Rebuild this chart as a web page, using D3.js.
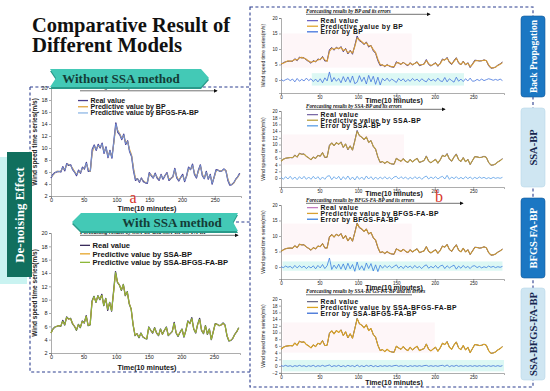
<!DOCTYPE html>
<html>
<head>
<meta charset="utf-8">
<title>Comparative Result of Different Models</title>
<script src="https://d3js.org/d3.v7.min.js"></script>
<style>
  body { margin: 0; background: #fff; }
  svg { display: block; }
  .serif { font-family: "Liberation Serif", "Times New Roman", serif; }
  .sans { font-family: "Liberation Sans", Arial, sans-serif; }
</style>
</head>
<body>
<div id="chart"></div>
<script>
// wind speed series, one value every 3 steps (10-minute steps), t = 0..288
const step = 3;
const realValue = [5.0,5.6,5.9,6.0,6.1,6.0,6.9,6.2,7.4,7.1, 7.2,6.4,6.0,5.4,6.3,5.8,6.8,6.5,7.6,6.1,
  6.2,9.8,10.5,9.6,10.6,10.0,10.8,9.1,10.2,8.4, 9.6,8.3,11.2,14.2,12.6,12.2,11.4,12.3,10.6,11.2,
  9.4,8.6,6.2,4.6,4.9,4.3,5.0,4.4,4.2,4.1, 5.9,5.4,5.0,5.8,5.0,4.6,5.6,4.8,5.4,5.9,
  4.6,4.9,5.2,6.6,5.0,4.5,5.1,5.6,4.4,5.4, 6.8,6.4,7.3,5.6,5.0,6.3,7.2,5.4,4.9,6.1,
  4.8,5.6,4.0,5.2,6.4,6.3,6.1,6.2,6.5,6.2, 4.6,3.8,3.9,4.2,4.8,5.2,5.8];

const predBP = [5.2,5.4,5.8,6.2,6.0,6.2,6.6,6.5,7.1,7.3, 7.0,6.7,6.1,5.7,6.0,6.0,6.5,6.7,7.3,6.5,
  6.0,9.2,10.2,9.9,10.3,10.2,10.5,9.5,9.9,8.8, 9.3,8.7,10.8,13.6,13.0,12.4,11.7,12.0,11.0,11.0,
  9.8,8.9,6.7,5.0,4.8,4.5,4.8,4.6,4.3,4.3, 5.5,5.6,5.1,5.6,5.2,4.8,5.4,5.0,5.3,5.7,
  4.9,4.9,5.1,6.3,5.3,4.7,5.0,5.4,4.7,5.2, 6.5,6.5,7.0,5.9,5.2,6.0,7.0,5.7,5.0,5.9,
  5.0,5.4,4.3,5.0,6.1,6.3,6.2,6.2,6.4,6.3, 4.9,4.0,3.9,4.1,4.7,5.1,5.6];

const predBFGS = [5.1,5.5,5.9,6.1,6.1,6.1,6.8,6.3,7.3,7.2, 7.1,6.5,6.0,5.5,6.2,5.9,6.7,6.6,7.5,6.2,
  6.1,9.6,10.4,9.7,10.5,10.1,10.7,9.2,10.1,8.5, 9.5,8.4,11.0,14.0,12.8,12.3,11.5,12.2,10.7,11.1,
  9.5,8.7,6.4,4.7,4.9,4.4,4.9,4.5,4.2,4.2, 5.8,5.5,5.0,5.7,5.1,4.7,5.5,4.9,5.4,5.8,
  4.7,4.9,5.2,6.5,5.1,4.6,5.1,5.5,4.5,5.3, 6.7,6.4,7.2,5.7,5.1,6.2,7.1,5.5,4.9,6.0,
  4.9,5.5,4.1,5.1,6.3,6.3,6.1,6.2,6.5,6.2, 4.7,3.9,3.9,4.2,4.8,5.2,5.7];

const predSSABP = [5.0,5.6,5.9,6.0,6.1,6.1,6.7,6.3,7.3,7.1, 7.1,6.5,6.0,5.5,6.2,5.9,6.7,6.5,7.5,6.2,
  6.3,9.6,10.4,9.7,10.5,10.1,10.6,9.2,10.1,8.6, 9.5,8.4,11.0,13.9,12.7,12.2,11.5,12.2,10.7,11.1,
  9.5,8.6,6.3,4.7,4.9,4.4,4.9,4.5,4.2,4.2, 5.8,5.4,5.0,5.7,5.0,4.7,5.5,4.8,5.4,5.8,
  4.7,4.9,5.2,6.4,5.1,4.6,5.1,5.5,4.5,5.4, 6.7,6.4,7.1,5.7,5.1,6.2,7.0,5.5,5.0,6.0,
  4.9,5.5,4.1,5.2,6.3,6.3,6.1,6.2,6.4,6.1, 4.7,3.9,3.9,4.2,4.8,5.2,5.7];

const predSSABFGS = [5.0,5.6,5.9,6.0,6.1,6.0,6.8,6.2,7.4,7.1, 7.2,6.4,6.0,5.4,6.3,5.8,6.8,6.5,7.5,6.1,
  6.2,9.7,10.5,9.6,10.6,10.0,10.7,9.1,10.2,8.5, 9.6,8.3,11.1,14.1,12.6,12.2,11.4,12.3,10.6,11.2,
  9.4,8.6,6.2,4.6,4.9,4.3,5.0,4.4,4.2,4.1, 5.9,5.4,5.0,5.8,5.0,4.6,5.6,4.8,5.4,5.9,
  4.6,4.9,5.2,6.5,5.0,4.5,5.1,5.6,4.4,5.4, 6.8,6.4,7.2,5.6,5.0,6.3,7.1,5.4,4.9,6.1,
  4.8,5.6,4.0,5.2,6.4,6.3,6.1,6.2,6.5,6.2, 4.6,3.8,3.9,4.2,4.8,5.2,5.8];

const errBP = [0.2,-0.3,0.1,0.4,-0.2,0.3,-0.6,0.5,-0.4,0.2, -0.3,0.6,-0.2,0.4,-0.5,0.3,-0.6,0.4,-0.9,0.7,
  -0.3,2.6,-0.6,0.8,-0.4,0.5,-0.9,1.1,-0.6,1.0, -0.8,1.3,-1.2,-0.7,1.4,-0.5,0.9,-1.3,1.5,-0.6,
  1.2,-1.4,0.9,-1.6,0.5,-0.3,0.6,-0.4,0.3,-0.2, -0.8,0.5,-0.3,0.4,-0.6,0.2,-0.4,0.5,-0.2,0.3,
  -0.5,0.4,-0.2,-0.6,0.5,-0.3,0.2,-0.4,0.6,-0.3, -0.5,0.8,-0.6,0.4,-0.2,-0.7,0.9,-0.4,0.3,-0.5,
  0.4,-0.3,0.6,-0.4,-0.3,0.2,-0.2,0.3,-0.2,0.1, 0.4,0.2,-0.1,0.2,-0.1,0.3,-0.2];

const errBFGS = [0.1,-0.2,0.3,-0.1,0.2,-0.4,0.5,-0.3,0.4,-0.2, 0.3,-0.5,0.2,-0.3,0.4,-0.6,0.5,-0.3,0.8,-0.5,
  0.4,2.9,-0.8,0.6,-0.5,0.9,-0.7,1.0,-0.9,1.2, -0.6,0.8,-1.4,1.6,-0.9,0.4,-1.1,1.3,-0.5,1.1,
  -1.3,0.7,-1.5,0.6,-0.4,0.5,-0.2,0.4,-0.3,0.2, 0.7,-0.4,0.3,-0.5,0.4,-0.2,0.3,-0.4,0.5,-0.3,
  0.2,-0.5,0.3,0.7,-0.4,0.2,-0.3,0.5,-0.4,0.3, 0.6,-0.5,0.4,-0.3,0.2,0.6,-0.7,0.3,-0.4,0.5,
  -0.3,0.2,-0.5,0.3,0.4,-0.2,0.2,-0.3,0.1,-0.2, 0.3,-0.1,0.2,-0.2,0.1,-0.1,0.2];

const errSSABP = [0.3,-0.4,0.4,-0.3,0.5,-0.4,0.3,-0.5,0.4,-0.3, 0.5,-0.4,0.3,-0.4,0.5,-0.3,0.4,-0.5,0.3,-0.4,
  0.5,0.7,-0.5,0.4,-0.3,0.5,-0.6,0.4,-0.4,0.6, -0.5,0.3,-0.6,0.5,-0.4,0.3,-0.5,0.6,-0.3,0.4,
  -0.5,0.3,-0.4,0.3,-0.3,0.4,-0.3,0.2,-0.4,0.3, 0.5,-0.3,0.4,-0.2,0.3,-0.4,0.2,-0.3,0.4,-0.2,
  0.3,-0.4,0.2,0.6,-0.3,0.3,-0.2,0.4,-0.3,0.2, 0.5,-0.3,0.8,-0.4,0.3,-0.2,0.4,-0.3,0.2,-0.3,
  0.4,-0.2,0.3,-0.3,0.2,-0.2,0.3,-0.1,0.2,-0.2, 0.1,-0.2,0.2,-0.1,0.1,-0.1,0.2];

const errSSABFGS = [0.1,-0.1,0.2,-0.1,0.1,-0.2,0.1,-0.1,0.2,-0.1, 0.1,-0.2,0.1,-0.1,0.2,-0.2,0.1,-0.1,0.2,-0.1,
  0.1,0.3,-0.2,0.1,-0.1,0.2,-0.2,0.1,-0.2,0.2, -0.1,0.1,-0.2,0.3,-0.2,0.1,-0.2,0.2,-0.1,0.2,
  -0.2,0.1,-0.2,0.1,-0.1,0.1,-0.1,0.1,-0.1,0.1, 0.2,-0.1,0.1,-0.1,0.1,-0.2,0.1,-0.1,0.1,-0.1,
  0.1,-0.1,0.1,0.2,-0.1,0.1,-0.1,0.1,-0.1,0.1, 0.2,-0.1,0.3,-0.2,0.1,-0.1,0.2,-0.1,0.1,-0.1,
  0.1,-0.1,0.1,-0.1,0.1,-0.1,0.1,-0.1,0.1,-0.1, 0.1,-0.1,0.1,-0.1,0.1,-0.1,0.1];

// tick labels
const xTicks = [0, 50, 100, 150, 200, 250];
const yTicksLeft = [2, 4, 6, 8, 10, 12, 14, 16, 18, 20];
const yTicks5 = [0, 5, 10, 15, 20];
const yTicks2 = [0, 2, 4, 6, 8, 10, 12, 14, 16, 18, 20];
const yTicks2neg = [-2, 0, 2, 4, 6, 8, 10, 12, 14, 16, 18, 20];

const W = 550, H = 391;
const svg = d3.select("#chart").append("svg").attr("width", W).attr("height", H);
svg.append("rect").attr("width", W).attr("height", H).attr("fill", "#fff");

const defs = svg.append("defs");
defs.append("marker").attr("id", "arr").attr("viewBox", "0 0 6 6")
    .attr("refX", 5).attr("refY", 3).attr("markerWidth", 4).attr("markerHeight", 4)
    .attr("markerUnits", "userSpaceOnUse").attr("orient", "auto")
  .append("path").attr("d", "M0,0L6,3L0,6Z").attr("fill", "#111");

// dashed frames
const navy = "#2c3f8f";
function dashed(sel) {
  return sel.attr("fill", "none").attr("stroke", navy).attr("stroke-width", 1.1).attr("stroke-dasharray", "3,2.4");
}
dashed(svg.append("rect").attr("x", 250).attr("y", 7).attr("width", 283).attr("height", 380));
dashed(svg.append("path").attr("d", "M30,87H250M30,87V372H250"));

function styleAxis(g, fs) {
  g.attr("font-size", fs).attr("font-family", "Liberation Sans, Arial, sans-serif");
  g.select(".domain").attr("stroke", "#8a8a8a").attr("stroke-width", 0.7);
  g.selectAll(".tick line").attr("stroke", "#555").attr("stroke-width", 0.5);
  g.selectAll("text").attr("fill", "#222");
}

function panel(o) {
  const x = d3.scaleLinear().domain([0, 290]).range(o.xr);
  const y = d3.scaleLinear().domain(o.yd).range(o.yr);
  y.domain([y.invert(o.axisY), o.yd[1]]).range([o.axisY, o.yr[1]]);
  const g = svg.append("g");

  (o.bands || []).forEach(b => g.append("rect")
    .attr("x", x(b.t0)).attr("width", x(b.t1) - x(b.t0))
    .attr("y", y(b.v1)).attr("height", y(b.v0) - y(b.v1))
    .attr("fill", b.c));

  const gx = g.append("g").attr("transform", `translate(0,${o.axisY})`)
    .call(d3.axisBottom(x).tickValues(xTicks).tickSize(2).tickPadding(0.5).tickFormat(d3.format("d")));
  styleAxis(gx, o.tick);
  const gy = g.append("g").attr("transform", `translate(${o.xr[0]},0)`)
    .call(d3.axisLeft(y).tickValues(o.yTicks).tickSize(2).tickPadding(1.5).tickFormat(d3.format("d")));
  styleAxis(gy, o.tick);

  const line = d3.line().x((d, i) => x(i * step)).y(d => y(d));
  o.series.forEach(s => g.append("path").datum(s.values).attr("d", line)
    .attr("fill", "none").attr("stroke", s.color).attr("stroke-width", s.w)
    .attr("stroke-linejoin", "round"));

  // legend
  const L = o.leg;
  o.series.forEach((s, i) => {
    const ly = L.y + i * L.dy;
    g.append("line").attr("x1", L.x).attr("x2", L.x + L.len)
      .attr("y1", ly - L.fs * 0.35).attr("y2", ly - L.fs * 0.35)
      .attr("stroke", s.leg || s.color).attr("stroke-width", 1.3);
    g.append("text").attr("class", "sans").attr("x", L.x + L.len + 2.5).attr("y", ly)
      .attr("font-size", L.fs).attr("font-weight", "bold").attr("fill", "#151515")
      .attr("letter-spacing", L.ls || 0).text(s.name);
  });

  // small italic heading with arrow
  const T = o.title;
  g.append("text").attr("class", "serif").attr("x", T.x).attr("y", T.y)
    .attr("font-size", T.fs).attr("font-style", "italic").attr("font-weight", "bold")
    .attr("fill", "#111").text(T.text);
  g.append("line").attr("x1", T.x).attr("x2", T.x2).attr("y1", T.y + 1.8).attr("y2", T.y + 1.8)
    .attr("stroke", "#111").attr("stroke-width", 0.6)
    .attr("marker-end", T.arrow ? "url(#arr)" : null);

  // axis titles
  g.append("text").attr("class", "sans").attr("x", o.timeX).attr("y", o.timeY)
    .attr("text-anchor", "middle").attr("font-size", o.timeFs).attr("font-weight", "bold")
    .attr("fill", "#151515").text("Time(10 minutes)");
  g.append("text").attr("class", "sans")
    .attr("transform", `translate(${o.ylabX},${(o.axisY + o.yr[1]) / 2}) rotate(-90)`)
    .attr("text-anchor", "middle").attr("font-size", o.ylabFs)
    .attr("font-weight", o.ylabW || "bold").attr("fill", "#222")
    .text("Wind speed time series(m/s)");
}

// ---- left: without SSA ----
panel({
  xr: [51, 241], yd: [2, 20], yr: [196, 88], axisY: 196, yTicks: yTicksLeft, tick: 5.5,
  series: [
    {name: "Real value", values: realValue, color: "#4a3c8c", w: 1.3},
    {name: "Predictive value by BP", values: predBP, color: "#e2a43c", w: 0.9},
    {name: "Predictive value by BFGS-FA-BP", values: predBFGS, color: "#6f8fd4", w: 1.0, leg: "#8fb8e6"}
  ],
  leg: {x: 78, y: 103, dy: 6.2, len: 10, fs: 7},
  title: {x: 80, x2: 217, y: 89, fs: 5.6, arrow: true, text: "Forecasting results by BP and BFGS-FA-BP"},
  timeX: 147, timeY: 211, timeFs: 7.2, ylabX: 37, ylabFs: 6.5
});

// ---- left: with SSA ----
panel({
  xr: [51, 240], yd: [2, 20], yr: [353, 233], axisY: 353, yTicks: yTicksLeft, tick: 5.5,
  series: [
    {name: "Real value", values: realValue, color: "#3a2c5c", w: 1.3},
    {name: "Predictive value by SSA-BP", values: predSSABP, color: "#e6a52a", w: 0.9},
    {name: "Predictive value by SSA-BFGS-FA-BP", values: predSSABFGS, color: "#8db83a", w: 1.0}
  ],
  leg: {x: 80, y: 248, dy: 8.5, len: 10, fs: 7.6},
  title: {x: 80, x2: 238, y: 233.5, fs: 5.6, arrow: true, text: "Forecasting results by SSA-BP and SSA-BFGS-FA-BP"},
  timeX: 147, timeY: 370, timeFs: 7.2, ylabX: 37, ylabFs: 6.5
});

// ---- right column ----
const rightBase = {xr: [281, 504], tick: 4.5, timeX: 394, timeFs: 7, ylabX: 265, ylabFs: 5, ylabW: "normal"};

panel(Object.assign({}, rightBase, {
  yd: [0, 20], yr: [80, 18], axisY: 93, yTicks: yTicks5,
  bands: [{t0: 2, t1: 170, v0: 4, v1: 15, c: "#fef6f8"}, {t0: 40, t1: 238, v0: -1.8, v1: 2.2, c: "#dcf8f4"}],
  series: [
    {name: "Real value", values: realValue, color: "#4c3f8e", w: 1.0, leg: "#6a63c6"},
    {name: "Predictive value by BP", values: predBP, color: "#d49a38", w: 1.1, leg: "#e0a530"},
    {name: "Error by BP", values: errBP, color: "#4272dc", w: 0.8}
  ],
  leg: {x: 307, y: 23, dy: 5.6, len: 11, fs: 6.8, ls: 0.45},
  title: {x: 306, x2: 430, y: 12.5, fs: 5.2, arrow: true, text: "Forecasting results by BP and its errors"},
  timeY: 103
}));

panel(Object.assign({}, rightBase, {
  yd: [0, 20], yr: [178, 111], axisY: 187, yTicks: yTicks2,
  bands: [{t0: 2, t1: 160, v0: 4, v1: 13, c: "#fef6f8"}],
  series: [
    {name: "Real value", values: realValue, color: "#5a4a86", w: 1.0, leg: "#7a6aa6"},
    {name: "Predictive value by SSA-BP", values: predSSABP, color: "#bc9e40", w: 1.1, leg: "#b8a040"},
    {name: "Error by SSA-BP", values: errSSABP, color: "#5a9ee6", w: 0.8}
  ],
  leg: {x: 307, y: 117, dy: 5.6, len: 11, fs: 6.8, ls: 0.45},
  title: {x: 306, x2: 445, y: 107.5, fs: 5.2, arrow: true, text: "Forecasting results by SSA-BP and its errors"},
  timeY: 196
}));

panel(Object.assign({}, rightBase, {
  yd: [0, 20], yr: [267, 205], axisY: 279, yTicks: yTicks5,
  bands: [{t0: 2, t1: 170, v0: 4, v1: 14, c: "#fef6f8"}, {t0: 2, t1: 288, v0: -1.2, v1: 1.8, c: "#dcf8f4"}],
  series: [
    {name: "Real value", values: realValue, color: "#5a4080", w: 1.0, leg: "#c27bc0"},
    {name: "Predictive value by BFGS-FA-BP", values: predBFGS, color: "#c89834", w: 1.1, leg: "#d8a030"},
    {name: "Error by BFGS-FA-BP", values: errBFGS, color: "#3a7ede", w: 0.8}
  ],
  leg: {x: 307, y: 210, dy: 5.8, len: 11, fs: 6.8, ls: 0.45},
  title: {x: 306, x2: 463, y: 201.5, fs: 5.2, arrow: true, text: "Forecasting results by BFGS-FA-BP and its errors"},
  timeY: 289.5
}));

panel(Object.assign({}, rightBase, {
  yd: [0, 20], yr: [366, 299], axisY: 373, yTicks: yTicks2neg,
  bands: [{t0: 2, t1: 200, v0: 4, v1: 13, c: "#fef6f8"}, {t0: 2, t1: 290, v0: -1.6, v1: 1.8, c: "#dcf8f4"}],
  series: [
    {name: "Real value", values: realValue, color: "#4a4266", w: 1.0, leg: "#6a6a88"},
    {name: "Predictive value by SSA-BFGS-FA-BP", values: predSSABFGS, color: "#dca524", w: 1.1},
    {name: "Error by SSA-BFGS-FA-BP", values: errSSABFGS, color: "#3b6ed6", w: 0.8}
  ],
  leg: {x: 307, y: 304, dy: 5.8, len: 11, fs: 6.8, ls: 0.45},
  title: {x: 306, x2: 412, y: 293, fs: 5.2, arrow: false, text: "Forecasting results by SSA-BFGS-FA-BP and its errors"},
  timeY: 385
}));

// ---- ribbons ----
svg.append("path").attr("d", "M50,71H201L209,80L201,89H50L56,80Z").attr("fill", "#2a9a8a");
svg.append("path").attr("d", "M50,69H201L209,78L201,87H50L56,78Z").attr("fill", "#43c9b6");
svg.append("text").attr("class", "serif").attr("x", 121).attr("y", 82.5).attr("text-anchor", "middle")
  .attr("font-size", 13).attr("font-weight", "bold").attr("fill", "#143c36").text("Without SSA method");

dashed(svg.append("path").attr("d", "M236,222H250"));
svg.append("path").attr("d", "M72,224L81,215H238L233,224L238,233H81Z").attr("fill", "#2a9a8a");
svg.append("path").attr("d", "M72,222L81,213H238L233,222L238,231H81Z").attr("fill", "#43c9b6");
svg.append("text").attr("class", "serif").attr("x", 172).attr("y", 226.5).attr("text-anchor", "middle")
  .attr("font-size", 13).attr("font-weight", "bold").attr("fill", "#143c36").text("With SSA method");

// ---- de-noising banner ----
svg.append("rect").attr("x", 0).attr("y", 157).attr("width", 27).attr("height", 127).attr("fill", "#c9f3f1");
svg.append("rect").attr("x", 7).attr("y", 152).attr("width", 25).attr("height", 125).attr("fill", "#116f5e");
svg.append("text").attr("class", "serif").attr("transform", "translate(24,215) rotate(-90)")
  .attr("text-anchor", "middle").attr("font-size", 13).attr("font-weight", "bold")
  .attr("fill", "#fff").text("De-noising Effect");

// ---- method tabs ----
const tabNames = ["Back Propagation", "SSA-BP", "BFGS-FA-BP", "SSA-BFGS-FA-BP"];
const tabTop = [16, 108, 198, 288];
const tabBot = [97, 187, 278, 380];
tabNames.forEach((name, i) => {
  const dark = i % 2 === 0;
  svg.append("rect").attr("x", 521).attr("y", tabTop[i]).attr("width", 24)
    .attr("height", tabBot[i] - tabTop[i]).attr("rx", 3)
    .attr("fill", dark ? "#1b77c3" : "#cfe6f2")
    .attr("stroke", dark ? "#145a9a" : "#b9d8ea").attr("stroke-width", 0.6);
  svg.append("text").attr("class", "serif")
    .attr("transform", `translate(536.5,${(tabTop[i] + tabBot[i]) / 2}) rotate(-90)`)
    .attr("text-anchor", "middle").attr("font-size", i === 0 ? 9.5 : 10.5).attr("font-weight", "bold")
    .attr("fill", dark ? "#fff" : "#17264f").text(name);
});

// ---- red panel letters ----
svg.append("text").attr("class", "serif").attr("x", 133).attr("y", 203).attr("text-anchor", "middle")
  .attr("font-size", 16).attr("fill", "#d8352a").text("a");
svg.append("text").attr("class", "serif").attr("x", 439).attr("y", 202).attr("text-anchor", "middle")
  .attr("font-size", 16).attr("fill", "#d8352a").text("b");

// ---- main title ----
svg.append("text").attr("class", "serif").attr("x", 32).attr("y", 32)
  .attr("font-size", 21).attr("font-weight", "bold").attr("fill", "#111")
  .attr("textLength", 198).attr("lengthAdjust", "spacingAndGlyphs").text("Comparative Result of");
svg.append("text").attr("class", "serif").attr("x", 32).attr("y", 52)
  .attr("font-size", 21).attr("font-weight", "bold").attr("fill", "#111")
  .attr("textLength", 150).attr("lengthAdjust", "spacingAndGlyphs").text("Different Models");
</script>
</body>
</html>
